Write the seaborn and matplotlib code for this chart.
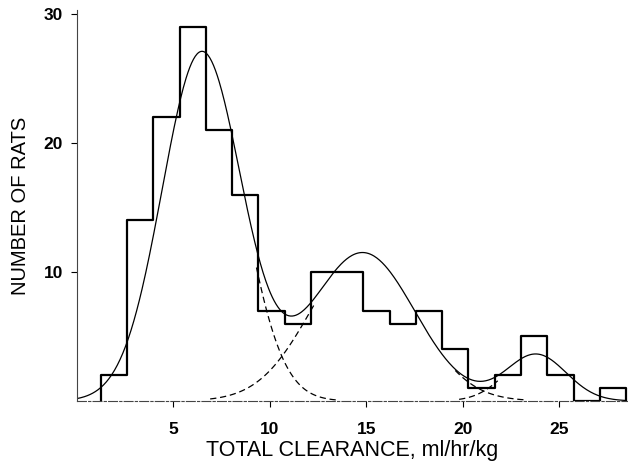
import numpy as np
import pandas as pd
import matplotlib
matplotlib.use("Agg")
import matplotlib.pyplot as plt
import seaborn as sns

# histogram (bin edges in ml/hr/kg, counts of rats)
bin_start = 1.23
bin_width = 1.361
counts = [2, 14, 22, 29, 21, 16, 7, 6, 10, 10, 7, 6, 7, 4, 1, 2, 5, 2, 0, 1]

# fitted normal components: amplitude, mean, sd
amps = [27.0, 11.5, 3.6]
means = [6.46, 14.8, 23.8]
sds = [2.05, 2.7, 1.55]

# where each component is shown dashed
dash_ranges = [[(9.3, 13.6)], [(6.9, 12.3), (19.6, 23.2)], [(19.8, 21.8)]]

x_ticks = [5, 10, 15, 20, 25]
y_ticks = [10, 20, 30]

sns.set_theme(style="white", rc={"text.color": "black", "axes.labelcolor": "black",
                                 "xtick.color": "black", "ytick.color": "black"})
plt.rcParams["font.family"] = ["Liberation Sans", "DejaVu Sans"]

edges = bin_start + bin_width * np.arange(len(counts) + 1)
hist_df = pd.DataFrame({"x": (edges[:-1] + edges[1:]) / 2, "w": counts})

fig = plt.figure(figsize=(6.28, 4.62), dpi=100)
ax = fig.add_axes([77 / 628, 61 / 462, 551 / 628, 391 / 462])

sns.histplot(data=hist_df, x="x", weights="w", bins=edges.tolist(), element="step",
             fill=False, color="black", linewidth=1.6, ax=ax)
# close the outline down to the baseline at both ends
ax.vlines([edges[0], edges[-1]], 0, [counts[0], counts[-1]], color="black", linewidth=1.6)


def comp(i, x):
    return amps[i] * np.exp(-((x - means[i]) ** 2) / (2 * sds[i] ** 2))


xs = np.linspace(0, edges[-1], 600)
total = sum(comp(i, xs) for i in range(3))
sns.lineplot(x=xs, y=total, color="black", linewidth=0.9, ax=ax)

for i, ranges in enumerate(dash_ranges):
    for a, b in ranges:
        xd = np.linspace(a, b, 120)
        sns.lineplot(x=xd, y=comp(i, xd), color="black", linewidth=0.9,
                     linestyle=(0, (5, 3)), ax=ax)

ax.set_xlim(0, 28.55)
ax.set_ylim(0, 30.3)
ax.set_xticks(x_ticks)
ax.set_yticks(y_ticks)
ax.set_xticklabels([str(t) for t in x_ticks], fontsize=12.5, fontweight="bold")
ax.set_yticklabels([str(t) for t in y_ticks], fontsize=12.5, fontweight="bold")
ax.tick_params(axis="both", direction="out", length=4, width=0.8,
               bottom=True, left=True)
ax.tick_params(axis="x", pad=11)
ax.tick_params(axis="y", pad=6)

for s in ["top", "right"]:
    ax.spines[s].set_visible(False)
ax.spines["left"].set_linewidth(0.8)
ax.spines["left"].set_color("#444444")
ax.spines["bottom"].set_linewidth(0.8)
ax.spines["bottom"].set_color("#444444")
ax.spines["bottom"].set_linestyle((0, (8, 2, 2, 2)))

ax.set_xlabel("TOTAL CLEARANCE, ml/hr/kg", fontsize=15.5, labelpad=2)
ax.set_ylabel("NUMBER OF RATS", fontsize=14.5, labelpad=10)
ax.grid(False)

fig.savefig("out.png", dpi=100)
